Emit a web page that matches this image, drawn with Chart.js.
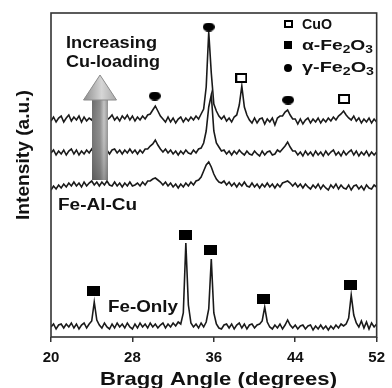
<!DOCTYPE html>
<html>
<head>
<meta charset="utf-8">
<script src="https://cdn.jsdelivr.net/npm/chart.js@4.4.1/dist/chart.umd.min.js"></script>
<style>html,body{margin:0;background:#fff}</style>
</head>
<body>
<canvas id="c" width="392" height="388"></canvas>
<script>
// 2-theta grid, 0.25 deg steps
const angles = [20,20.25,20.5,20.75,21,21.25,21.5,21.75,22,22.25,22.5,22.75,23,23.25,23.5,23.75,
  24,24.25,24.5,24.75,25,25.25,25.5,25.75,26,26.25,26.5,26.75,27,27.25,27.5,27.75,
  28,28.25,28.5,28.75,29,29.25,29.5,29.75,30,30.25,30.5,30.75,31,31.25,31.5,31.75,
  32,32.25,32.5,32.75,33,33.25,33.5,33.75,34,34.25,34.5,34.75,35,35.25,35.5,35.75,
  36,36.25,36.5,36.75,37,37.25,37.5,37.75,38,38.25,38.5,38.75,39,39.25,39.5,39.75,
  40,40.25,40.5,40.75,41,41.25,41.5,41.75,42,42.25,42.5,42.75,43,43.25,43.5,43.75,
  44,44.25,44.5,44.75,45,45.25,45.5,45.75,46,46.25,46.5,46.75,47,47.25,47.5,47.75,
  48,48.25,48.5,48.75,49,49.25,49.5,49.75,50,50.25,50.5,50.75,51,51.25,51.5,51.75,52];

// intensities (a.u., above each trace's own baseline)
const cuHigh = [0,4,-1,3,5,-1,3,6,0,4,1,5,-1,4,0,3,
  1,5,0,3,-1,4,1,3,6,1,4,0,5,2,6,1,
  5,0,4,1,5,2,6,7,11,15,10,5,2,-1,4,-1,
  3,-2,2,4,-1,3,0,4,1,5,2,7,12,34,89,48,
  17,10,5,2,5,0,3,-1,4,6,16,35,14,6,1,-2,
  3,-2,2,3,-3,2,-1,3,-4,3,5,5,9,11,6,2,
  2,-3,2,-3,1,3,-2,2,-1,3,-2,2,-1,3,0,4,
  1,5,7,10,6,3,1,5,0,3,-2,2,-1,3,-2,2,-1];
const cuMid = [0,3,-2,2,-1,3,-2,2,4,-1,3,-2,2,-1,3,0,
  4,-1,3,0,4,0,3,-1,3,4,0,3,-1,3,0,4,
  0,3,-1,3,0,4,4,7,9,13,8,4,1,4,0,3,
  -1,2,-2,2,-1,3,0,-1,3,0,4,5,10,22,46,58,
  22,10,6,2,3,-1,2,-2,2,-1,3,0,-2,2,-1,-2,
  2,-1,-3,2,-2,1,2,-2,-1,3,1,4,7,11,6,2,
  2,-2,1,-3,2,-2,1,-3,2,-2,1,-3,2,-2,1,3,
  -2,1,-3,2,-2,1,3,-2,2,-3,1,-2,2,-3,1,-2,1];
const feAlCu = [-3,1,-2,2,-1,3,0,4,1,5,1,4,0,5,1,4,
  6,2,5,1,5,2,6,2,1,5,1,4,0,4,1,5,
  1,2,4,1,5,2,6,6,8,9,7,5,2,5,1,4,
  0,3,-1,3,0,4,1,5,2,6,7,10,16,22,25,20,
  13,8,5,4,6,2,5,1,4,0,4,1,5,1,0,4,
  0,3,-1,3,0,4,0,3,-1,3,0,4,5,6,4,1,
  4,0,3,-1,3,0,-2,2,-1,3,-2,2,-1,-3,2,-1,
  3,-2,2,-1,-2,2,-3,1,2,-2,1,-3,2,-1,-2,2,0];
const feOnly = [0,3,-2,2,3,-1,3,0,4,-1,3,-2,2,4,-1,3,
  6,25,7,2,-1,4,0,-2,3,-1,4,0,3,-1,4,0,
  -2,3,-1,4,0,3,-1,4,0,3,-1,2,4,-1,3,0,
  4,1,5,3,14,84,22,4,0,3,-1,4,0,5,18,68,
  14,3,-1,-2,2,3,-1,3,-2,2,4,-1,3,-2,2,3,
  -1,2,3,6,20,5,0,-2,2,-1,3,-2,2,7,2,-1,
  2,-2,1,2,-2,1,2,-3,1,-2,2,-2,1,-3,1,-2,
  2,-1,3,1,3,9,32,12,4,0,6,-1,5,-2,4,0,3];
const traceOffsets = [216, 184, 150, 10];   // stacking offsets

// phase markers: angle + label height (same units)
const alphaAngles = [24.2, 33.2, 35.7, 40.9, 49.4];
const alphaHeights = [46, 102, 87, 38, 52];
const gammaAngles = [30.2, 35.5, 43.3];
const gammaHeights = [241, 310, 237];
const cuoAngles = [38.7, 48.8];
const cuoHeights = [259, 238];

const xTicks = [20, 28, 36, 44, 52];

const FONT = '"Liberation Sans", Arial, sans-serif';

function mark(kind, w, h){
  const c = document.createElement("canvas");
  c.width = w; c.height = h;
  const g = c.getContext("2d");
  g.fillStyle = "#000";
  if(kind==="sq"){ g.fillRect(0,0,w,h); }
  else if(kind==="dot"){ g.beginPath(); g.ellipse(w/2,h/2,w/2,h/2,0,0,Math.PI*2); g.fill(); }
  else { g.fillStyle="#fff"; g.fillRect(0,0,w,h); g.strokeStyle="#000"; g.lineWidth=2; g.strokeRect(1,1,w-2,h-2); }
  return c;
}
const sqMark = mark("sq", 13, 10), dotMark = mark("dot", 12, 9), openMark = mark("open", 12, 10);

const pts = (xs, ys, off=0) => xs.map((x,i)=>({ x, y: ys[i] + off }));

function txt(ctx, s, x, y, font, w){
  ctx.font = font; ctx.textBaseline = "middle"; ctx.textAlign = "left";
  const m = ctx.measureText(s).width;
  ctx.save(); ctx.translate(x, y); ctx.scale(w/m, 1); ctx.fillText(s, 0, 0); ctx.restore();
}
// text with subscripts: parts = [text, size, dy]
function rich(ctx, parts, x, y, w){
  ctx.textBaseline = "middle"; ctx.textAlign = "left";
  let tot = 0;
  parts.forEach(p=>{ ctx.font = "bold "+p[1]+"px "+FONT; tot += ctx.measureText(p[0]).width; });
  ctx.save(); ctx.translate(x, y); ctx.scale(w/tot, 1);
  let xx = 0;
  parts.forEach(p=>{ ctx.font = "bold "+p[1]+"px "+FONT; ctx.fillText(p[0], xx, p[2]); xx += ctx.measureText(p[0]).width; });
  ctx.restore();
}

function drawArrow(ctx){
  const cx = 100, tipY = 75, baseY = 100, botY = 180, sw = 8, hw = 16.5;
  const g = ctx.createLinearGradient(cx-sw, 0, cx+sw, 0);
  g.addColorStop(0, "#6a6a6a"); g.addColorStop(0.5, "#8a8a8a");
  g.addColorStop(0.75, "#c4c4c4"); g.addColorStop(1, "#8e8e8e");
  ctx.fillStyle = g;
  ctx.fillRect(cx-sw, baseY, sw*2, botY-baseY);
  const v = ctx.createLinearGradient(0, baseY, 0, botY);
  v.addColorStop(0, "rgba(255,255,255,0)"); v.addColorStop(1, "rgba(60,60,60,0.35)");
  ctx.fillStyle = v;
  ctx.fillRect(cx-sw, baseY, sw*2, botY-baseY);
  const hg = ctx.createLinearGradient(cx-hw, 0, cx+hw, 0);
  hg.addColorStop(0, "#8c8c8c"); hg.addColorStop(0.55, "#d6d6d6"); hg.addColorStop(1, "#a8a8a8");
  ctx.beginPath();
  ctx.moveTo(cx, tipY); ctx.lineTo(cx+hw, baseY); ctx.lineTo(cx-hw, baseY); ctx.closePath();
  ctx.fillStyle = hg; ctx.fill();
  ctx.strokeStyle = "#8a8a8a"; ctx.lineWidth = 1; ctx.stroke();
}

const overlay = {
  id: "overlay",
  afterDatasetsDraw(chart){
    const { ctx, chartArea: a } = chart;
    ctx.save();
    drawArrow(ctx);
    ctx.fillStyle = "#111";
    txt(ctx, "Increasing", 66, 44, "bold 16px "+FONT, 91);
    txt(ctx, "Cu-loading", 66, 63, "bold 16px "+FONT, 94);
    txt(ctx, "Fe-Al-Cu", 58, 206, "bold 16px "+FONT, 79);
    txt(ctx, "Fe-Only", 108, 307, "bold 17px "+FONT, 70);

    // legend
    ctx.drawImage(mark("open", 9, 8), 284, 20);
    ctx.drawImage(mark("sq", 8, 8), 284, 41);
    ctx.drawImage(mark("dot", 8, 8), 284, 64);
    ctx.fillStyle = "#111";
    rich(ctx, [["CuO",14,0]], 302, 25, 30);
    rich(ctx, [["\u03b1-Fe",14,0],["2",10,4],["O",14,0],["3",10,4]], 302, 46, 71);
    rich(ctx, [["\u03b3-Fe",14,0],["2",10,4],["O",14,0],["3",10,4]], 302, 68, 72);

    // axis titles
    txt(ctx, "Bragg Angle (degrees)", 100, 380, "bold 19px "+FONT, 237);
    ctx.save(); ctx.translate(24, 220); ctx.rotate(-Math.PI/2);
    txt(ctx, "Intensity (a.u.)", 0, 0, "bold 18px "+FONT, 130);
    ctx.restore();

    // frame
    ctx.strokeStyle = "#333"; ctx.lineWidth = 1.6;
    ctx.strokeRect(a.left, a.top, a.right - a.left, a.bottom - a.top);
    ctx.restore();
  }
};

const lineDs = (vals, off) => ({
  type: "line", data: pts(angles, vals, off), borderColor: "#1a1a1a", borderWidth: 1.6,
  pointRadius: 0, tension: 0, order: 2
});
const markDs = (xs, ys, img) => ({
  type: "scatter", data: pts(xs, ys), pointStyle: img, pointRadius: 5, showLine: false, order: 0
});

new Chart(document.getElementById("c"), {
  data: {
    datasets: [
      markDs(alphaAngles, alphaHeights, sqMark),
      markDs(gammaAngles, gammaHeights, dotMark),
      markDs(cuoAngles, cuoHeights, openMark),
      lineDs(cuHigh, traceOffsets[0]),
      lineDs(cuMid, traceOffsets[1]),
      lineDs(feAlCu, traceOffsets[2]),
      lineDs(feOnly, traceOffsets[3])
    ]
  },
  options: {
    responsive: false, animation: false, devicePixelRatio: 1,
    layout: { padding: { left: 51, top: 13, right: 10, bottom: 0 } },
    plugins: { legend: { display: false }, tooltip: { enabled: false } },
    scales: {
      x: {
        type: "linear", min: 20, max: 52,
        afterBuildTicks: s => { s.ticks = xTicks.map(v => ({ value: v })); },
        afterFit: s => { s.height = 51; },
        border: { display: false },
        grid: { drawOnChartArea: false, drawTicks: true, tickLength: 5, color: "#333", lineWidth: 1.5 },
        ticks: { color: "#111", padding: 7, font: { family: FONT, size: 15, weight: "bold" }, maxRotation: 0 }
      },
      y: { min: 0, max: 324, display: false }
    }
  },
  plugins: [overlay]
});
</script>
</body>
</html>
